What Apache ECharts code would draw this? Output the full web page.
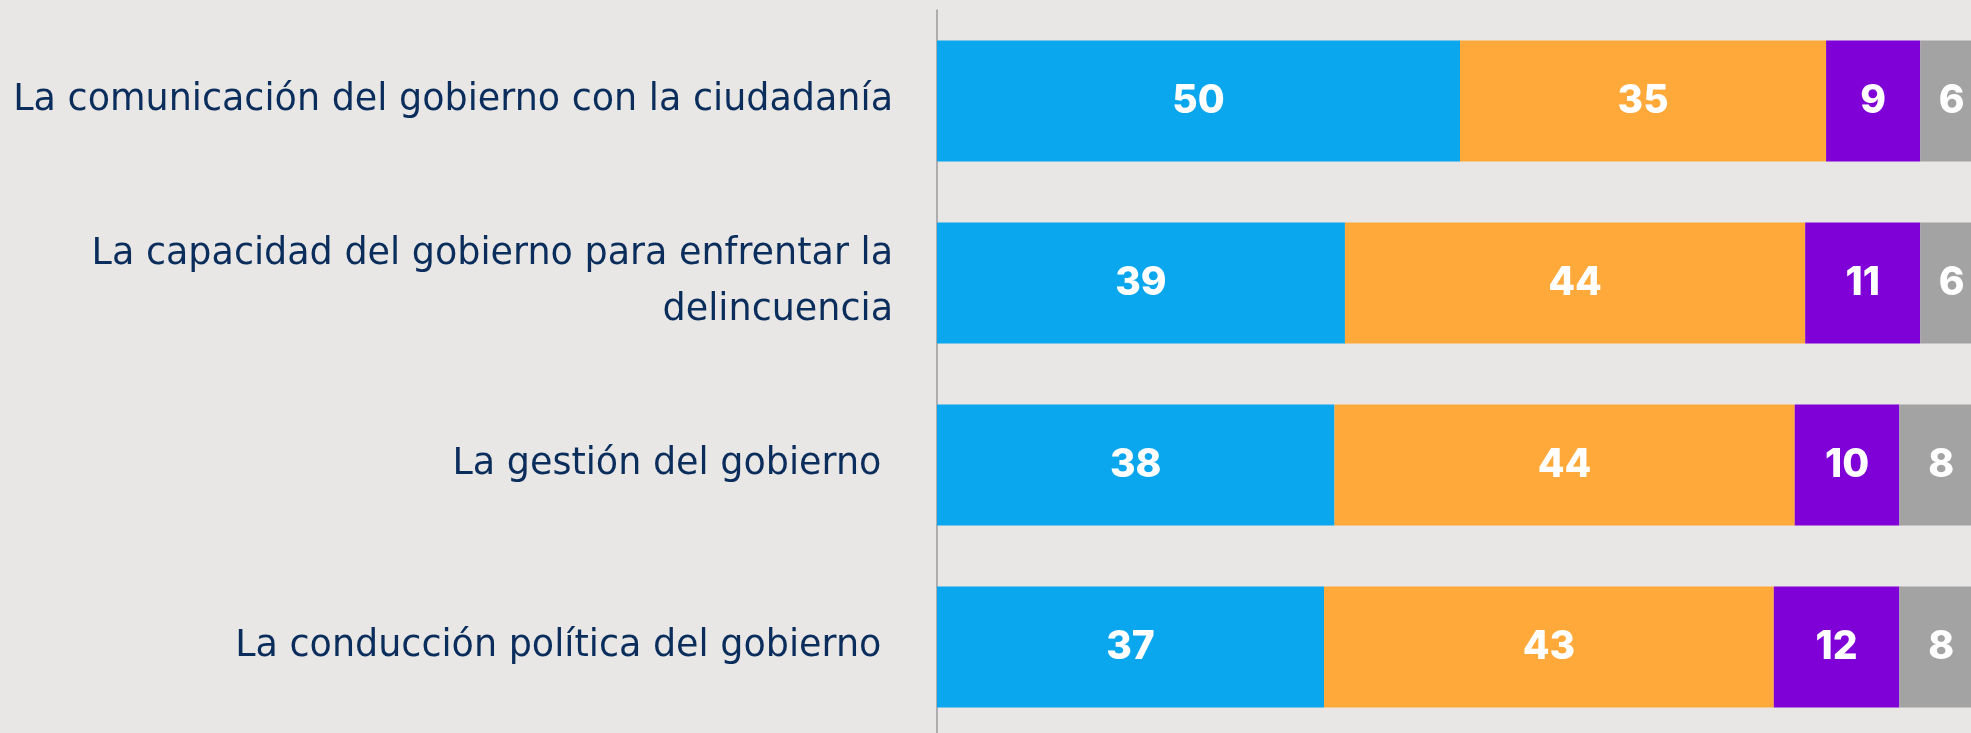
<!DOCTYPE html>
<html>
<head>
<meta charset="utf-8">
<script src="https://cdn.jsdelivr.net/npm/echarts@6/dist/echarts.min.js"></script>
<style>
html,body{margin:0;padding:0;background:#E8E7E5;}
#chart{width:1971px;height:733px;}
</style>
</head>
<body>
<div id="chart"></div>
<script>
const categories = [
  "La comunicación del gobierno con la ciudadanía",
  "La capacidad del gobierno para enfrentar la\ndelincuencia",
  "La gestión del gobierno ",
  "La conducción política del gobierno "
];
const seriesNames = ["Serie 1", "Serie 2", "Serie 3", "Serie 4"];
const values1 = [50, 39, 38, 37];
const values2 = [35, 44, 44, 43];
const values3 = [9, 11, 10, 12];
const values4 = [6, 6, 8, 8];
const colors = ["#0AA6EE", "#FFA93A", "#8000D8", "#A3A3A3"];

const allValues = [values1, values2, values3, values4];
const chart = echarts.init(document.getElementById('chart'), null, {renderer: 'canvas'});
const option = {
  backgroundColor: '#E8E7E5',
  animation: false,
  grid: {left: 937, width: 1046, top: 10, height: 728, containLabel: false, outerBoundsMode: 'none'},
  xAxis: {
    type: 'value', min: 0, max: 100, show: false
  },
  yAxis: {
    type: 'category',
    data: categories,
    inverse: true,
    axisLine: {show: true, lineStyle: {color: '#9A9A9A', width: 1.5}},
    axisTick: {show: false},
    axisLabel: {
      margin: 44,
      color: '#0B2D5C',
      fontFamily: 'DejaVu Sans',
      fontSize: 36.5,
      lineHeight: 56,
      align: 'right'
    }
  },
  series: allValues.map((vals, i) => ({
    name: seriesNames[i],
    type: 'bar',
    stack: 'total',
    data: vals,
    barCategoryGap: '33.5%',
    itemStyle: {color: colors[i]},
    label: {
      show: true,
      position: 'inside',
      color: '#FFFFFF',
      fontFamily: 'Inter',
      fontWeight: 800,
      fontSize: 39
    }
  }))
};
chart.setOption(option);
</script>
</body>
</html>
